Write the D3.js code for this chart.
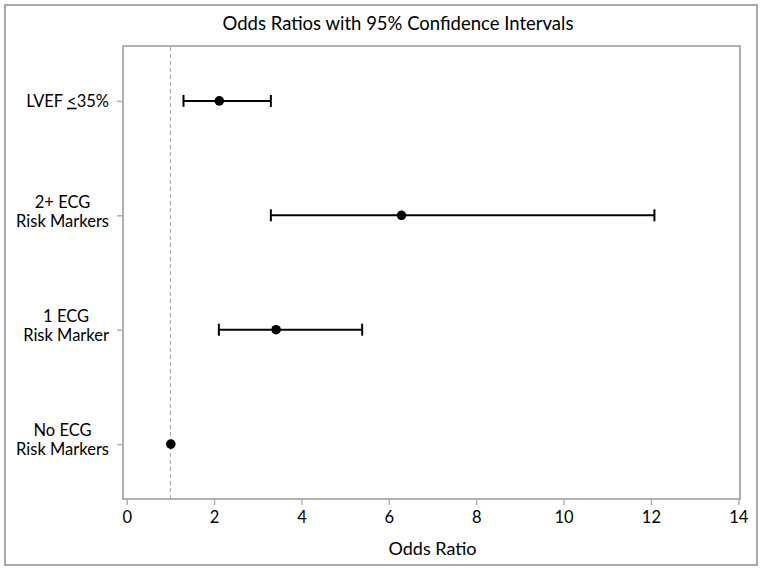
<!DOCTYPE html>
<html>
<head>
<meta charset="utf-8">
<script src="https://cdn.jsdelivr.net/npm/d3@7"></script>
<style>
  html, body { margin: 0; padding: 0; background: #fff; }
  svg { display: block; font-family: Lato, 'Noto Sans', sans-serif; }
</style>
</head>
<body>
<svg id="chart" width="762" height="570"></svg>
<script>
// rows, top to bottom
const categories = ['LVEF', '2+ ECG', '1 ECG', 'No ECG'];
const labelLines = [
  ['LVEF <35%'],
  ['2+ ECG', 'Risk Markers'],
  ['1 ECG', 'Risk Marker'],
  ['No ECG', 'Risk Markers'],
];
const oddsRatio = [2.12, 6.29, 3.42, 1.01];
const lowerCI   = [1.30, 3.30, 2.11, null];
const upperCI   = [3.30, 12.08, 5.39, null];
const xTicks    = [0, 2, 4, 6, 8, 10, 12, 14];
const refValue  = 1;

const FONT = 'Lato, Noto Sans, sans-serif';
const svg = d3.select('#chart');
const plot = { left: 123, right: 740, top: 46, bottom: 499 };

// outer frame
svg.append('rect')
  .attr('x', 5).attr('y', 5).attr('width', 752).attr('height', 560)
  .attr('fill', 'none').attr('stroke', '#8c8c8c').attr('stroke-width', 1.5);

svg.append('text')
  .attr('x', 398).attr('y', 30)
  .attr('text-anchor', 'middle')
  .attr('font-size', '18.5px').attr('fill', '#000')
  .text('Odds Ratios with 95% Confidence Intervals');

const x = d3.scaleLinear().domain([0, 14]).range([126.7, 738.3]);
const y = d3.scalePoint().domain(categories).range([plot.top, plot.bottom]).padding(0.48);

// plot frame
svg.append('rect')
  .attr('x', plot.left).attr('y', plot.top)
  .attr('width', plot.right - plot.left).attr('height', plot.bottom - plot.top)
  .attr('fill', 'none').attr('stroke', '#b0b0b0').attr('stroke-width', 2);

// x axis
const xAxis = svg.append('g')
  .attr('transform', `translate(0,${plot.bottom})`)
  .call(d3.axisBottom(x).tickValues(xTicks).tickSize(6).tickPadding(6).tickFormat(d3.format('d')));
xAxis.select('.domain').remove();
xAxis.selectAll('line').attr('stroke', '#b0b0b0').attr('stroke-width', 1.5);
xAxis.selectAll('text').attr('font-size', '16.5px').attr('fill', '#000').attr('font-family', FONT);

svg.append('text')
  .attr('x', x(7)).attr('y', 555)
  .attr('text-anchor', 'middle')
  .attr('font-size', '18px').attr('fill', '#000')
  .text('Odds Ratio');

// y axis ticks
const yAxis = svg.append('g')
  .attr('transform', `translate(${plot.left},0)`)
  .call(d3.axisLeft(y).tickSize(6).tickFormat(''));
yAxis.select('.domain').remove();
yAxis.selectAll('line').attr('stroke', '#b0b0b0').attr('stroke-width', 1.5);

// y labels: centred lines, block right-aligned
const labelRight = 109;
const lineGap = 19;
categories.forEach((c, i) => {
  const lines = labelLines[i];
  const g = svg.append('g');
  const cy = y(c) - (lines.length - 1) * lineGap / 2 - (lines.length > 1 ? 4 : 0);
  const texts = lines.map((ln, j) => {
    const t = g.append('text')
      .attr('y', cy + j * lineGap)
      .attr('dy', '0.35em')
      .attr('text-anchor', 'middle')
      .attr('font-size', '16.5px').attr('fill', '#000');
    if (ln.includes('<')) {
      const [a, b] = ln.split('<');
      t.append('tspan').text(a);
      t.append('tspan').attr('text-decoration', 'underline').text('<');
      t.append('tspan').text(b);
    } else {
      t.text(ln);
    }
    return t;
  });
  const w = d3.max(texts, t => t.node().getComputedTextLength());
  texts.forEach(t => t.attr('x', labelRight - w / 2));
});

// reference line
svg.append('line')
  .attr('x1', x(refValue)).attr('x2', x(refValue))
  .attr('y1', plot.top + 1).attr('y2', plot.bottom - 1)
  .attr('stroke', '#a0a0a0').attr('stroke-width', 1)
  .attr('stroke-dasharray', '4,3');

// error bars
const rows = categories.map((c, i) => ({ c, or: oddsRatio[i], lo: lowerCI[i], hi: upperCI[i] }))
  .filter(d => d.lo != null);
const cap = 6;
const bars = svg.append('g').attr('stroke', '#000').attr('stroke-width', 2);
bars.selectAll('.ci').data(rows).enter().append('line')
  .attr('x1', d => x(d.lo)).attr('x2', d => x(d.hi))
  .attr('y1', d => y(d.c)).attr('y2', d => y(d.c));
bars.selectAll('.lo').data(rows).enter().append('line')
  .attr('x1', d => x(d.lo)).attr('x2', d => x(d.lo))
  .attr('y1', d => y(d.c) - cap).attr('y2', d => y(d.c) + cap);
bars.selectAll('.hi').data(rows).enter().append('line')
  .attr('x1', d => x(d.hi)).attr('x2', d => x(d.hi))
  .attr('y1', d => y(d.c) - cap).attr('y2', d => y(d.c) + cap);

// points
svg.append('g').selectAll('circle')
  .data(categories.map((c, i) => ({ c, or: oddsRatio[i] })))
  .enter().append('circle')
  .attr('cx', d => x(d.or)).attr('cy', d => y(d.c))
  .attr('r', 4.8).attr('fill', '#000');
</script>
</body>
</html>
